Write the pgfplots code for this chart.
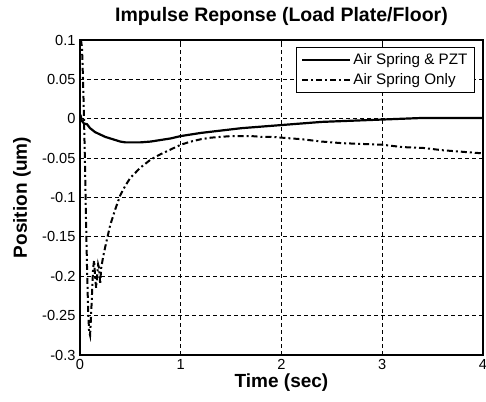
\documentclass[border=0pt]{standalone}
\usepackage{pgfplots}
\pgfplotsset{compat=1.18}
\usepackage{fontspec}
\setmainfont{Liberation Sans}

\begin{document}
\begin{tikzpicture}
\begin{axis}[
    scale only axis,
    width=403pt,
    height=315pt,
    xmin=0, xmax=4,
    ymin=-0.3, ymax=0.1,
    xtick={0,1,2,3,4},
    xticklabels={0,1,2,3,4},
    ytick={-0.3,-0.25,-0.2,-0.15,-0.1,-0.05,0,0.05,0.1},
    yticklabels={-0.3,-0.25,-0.2,-0.15,-0.1,-0.05,0,0.05,0.1},
    tick label style={font=\fontsize{14.6}{14.6}\selectfont},
    xticklabel style={yshift=-1pt},
    yticklabel style={xshift=-1pt},
    tick align=inside,
    major tick length=4pt,
    tick style={black, line width=0.8pt},
    axis line style={black, line width=1.1pt},
    grid=major,
    major grid style={black, line width=0.9pt, dash pattern=on 4pt off 3pt},
    title={\bfseries Impulse Reponse (Load Plate/Floor)},
    title style={font=\fontsize{19.5}{19.5}\selectfont, at={(axis description cs:0.5,1.057)}, anchor=center},
    xlabel={\bfseries Time (sec)},
    xlabel style={font=\fontsize{19}{19}\selectfont, at={(axis description cs:0.5,-0.088)}, anchor=center},
    ylabel={\bfseries Position (um)},
    ylabel style={font=\fontsize{19}{19}\selectfont, at={(axis description cs:-0.144,0.5)}, anchor=center},
    legend style={at={(axis description cs:0.98,0.978)}, anchor=north east,
        draw=black, line width=1pt, fill=white,
        font=\fontsize{15.2}{16}\selectfont,
        row sep=4pt, inner xsep=5pt, inner ysep=4pt},
    legend cell align=left,
    legend image code/.code={\draw[#1] (0pt,0pt) -- (48pt,0pt);},
]
\addplot[black, line width=2.2pt] coordinates {
    (0,0.0) (0.01,0.002) (0.02,-0.003) (0.04,-0.006) (0.07,-0.007)
    (0.1,-0.012) (0.15,-0.017) (0.2,-0.020) (0.25,-0.023) (0.3,-0.025)
    (0.35,-0.027) (0.4,-0.029) (0.45,-0.030) (0.5,-0.030) (0.55,-0.030)
    (0.6,-0.030) (0.7,-0.029) (0.8,-0.027) (0.9,-0.025) (1.0,-0.022)
    (1.2,-0.018) (1.4,-0.015) (1.6,-0.012) (1.8,-0.010) (2.0,-0.008)
    (2.2,-0.006) (2.4,-0.004) (2.6,-0.003) (2.8,-0.002) (3.0,-0.001)
    (3.2,0.0) (3.4,0.001) (4.0,0.001)
};
\addlegendentry{Air Spring \& PZT}
\addplot[black, line width=2pt, dash pattern=on 6pt off 3pt on 2pt off 3pt] coordinates {
    (0.01,0.1) (0.02,0.09) (0.03,0.05) (0.04,0.0) (0.05,-0.06)
    (0.06,-0.13) (0.07,-0.19) (0.08,-0.24) (0.09,-0.27) (0.1,-0.275)
    (0.11,-0.25) (0.12,-0.22) (0.13,-0.19) (0.14,-0.18) (0.15,-0.2)
    (0.16,-0.215) (0.17,-0.2) (0.18,-0.185) (0.19,-0.19) (0.2,-0.21)
    (0.21,-0.19) (0.23,-0.175) (0.25,-0.163) (0.3,-0.135) (0.35,-0.115)
    (0.4,-0.097) (0.45,-0.085) (0.5,-0.075) (0.6,-0.062) (0.7,-0.052)
    (0.8,-0.045) (0.9,-0.039) (1.0,-0.033) (1.1,-0.029) (1.2,-0.026)
    (1.3,-0.024) (1.4,-0.023) (1.5,-0.022) (1.6,-0.022) (1.7,-0.022)
    (1.8,-0.023) (1.9,-0.023) (2.0,-0.024) (2.2,-0.026) (2.4,-0.029)
    (2.6,-0.031) (2.8,-0.032) (3.0,-0.033) (3.2,-0.036) (3.4,-0.037)
    (3.6,-0.040) (3.8,-0.042) (4.0,-0.044)
};
\addlegendentry{Air Spring Only}
\end{axis}
\pgfresetboundingbox
\path[use as bounding box] ([xshift=-80pt,yshift=-47pt]current axis.south west)
    rectangle ([xshift=3pt,yshift=40pt]current axis.north east);
\end{tikzpicture}
\end{document}
